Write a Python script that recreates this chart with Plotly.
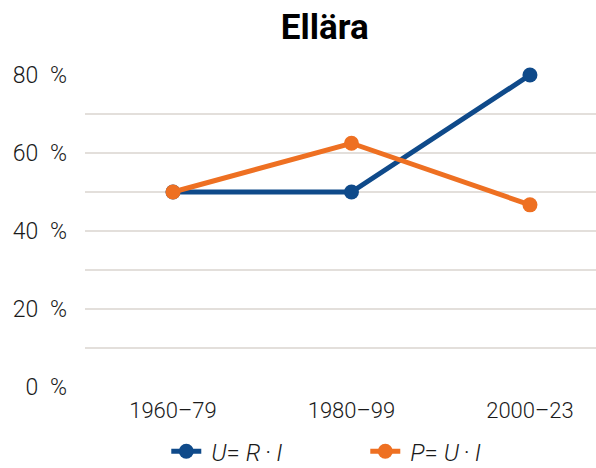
import plotly.graph_objects as go

categories = ["1960–79", "1980–99", "2000–23"]
u_values = [50, 50, 80]
p_values = [50, 62.5, 46.7]
y_ticks = [0, 20, 40, 60, 80]
y_tick_labels = ["0\u2002%", "20\u2002%", "40\u2002%", "60\u2002%", "80\u2002%"]

BLUE = "#0F4A8A"
ORANGE = "#EE7022"
FONT = "Roboto, Liberation Sans, sans-serif"
TXT = "#1a1a1a"

fig = go.Figure()
fig.add_trace(go.Scatter(
    x=[0, 1, 2], y=u_values, mode="lines+markers",
    name="\u2009<i>U</i>= <i>R</i>\u2009·\u2009<i>I</i>",
    line=dict(color=BLUE, width=5), marker=dict(color=BLUE, size=15),
    cliponaxis=False,
))
fig.add_trace(go.Scatter(
    x=[0, 1, 2], y=p_values, mode="lines+markers",
    name="\u2009<i>P</i>= <i>U</i>\u2009·\u2009<i>I</i>",
    line=dict(color=ORANGE, width=5), marker=dict(color=ORANGE, size=15),
    cliponaxis=False,
))

fig.update_layout(
    width=596, height=468,
    margin=dict(l=85, r=0, t=75, b=81, autoexpand=False),
    paper_bgcolor="white", plot_bgcolor="white",
    font=dict(family=FONT, size=22, color=TXT, weight=300),
    title=dict(text="<b>Ellära</b>", xref="container", x=0.545, xanchor="center",
               yref="container", y=0.943, yanchor="middle",
               font=dict(family=FONT, size=35, color="#000000")),
    showlegend=True,
    legend=dict(orientation="h", xref="container", x=0.279, xanchor="left",
                yref="container", y=0.035, yanchor="middle",
                bgcolor="rgba(0,0,0,0)",
                font=dict(size=24, color=TXT, weight=300),
                entrywidth=154, entrywidthmode="pixels", tracegroupgap=0),
    xaxis=dict(
        range=[-0.493, 2.37], tickvals=[0, 1, 2], ticktext=categories,
        showgrid=False, zeroline=False, showline=False, ticks="",
        ticklen=0, automargin=False, ticklabelstandoff=8,
        tickfont=dict(size=22, color=TXT, weight=300),
    ),
    yaxis=dict(
        range=[0, 80], tickvals=y_ticks, ticktext=y_tick_labels,
        showgrid=True, gridcolor="#E3DFDB", gridwidth=1.5,
        minor=dict(dtick=10, tick0=0, showgrid=True, gridcolor="#E3DFDB", gridwidth=1.5),
        zeroline=False, showline=False, ticks="", ticklabelstandoff=17,
        automargin=False,
        tickfont=dict(size=23, color=TXT, weight=300),
    ),
)

fig.write_html("out.html", config={"displayModeBar": False},
               post_script="document.body.style.margin='0';")
